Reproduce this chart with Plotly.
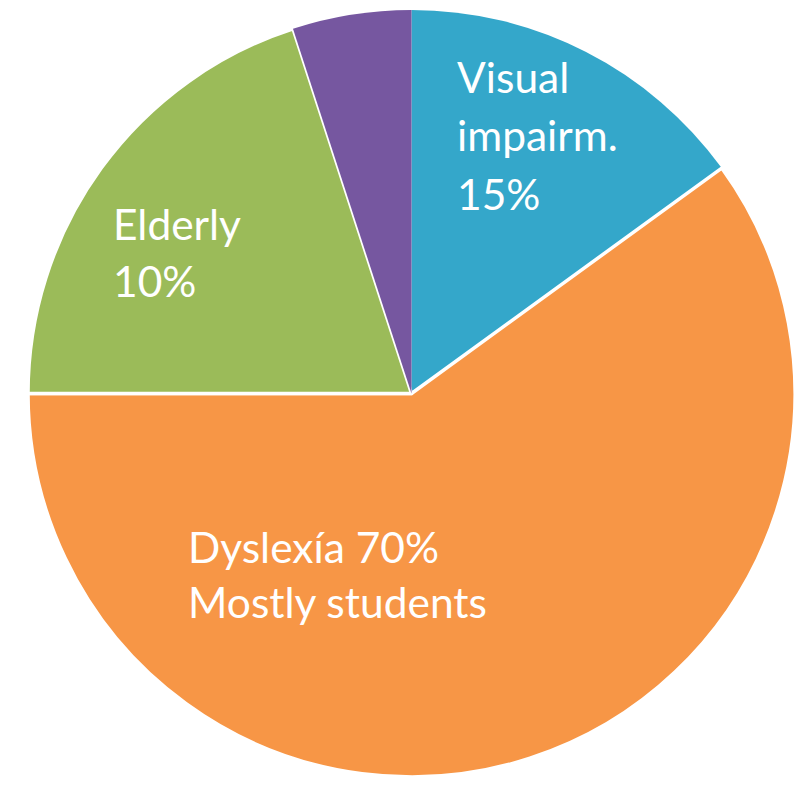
import plotly.graph_objects as go

categories = ["Visual impairm.", "Dyslexía", "Elderly", "Other"]
values = [15, 60, 20, 5]
label_lines = [["Visual", "impairm.", "15%"], ["Dyslexía 70%", "Mostly students"], ["Elderly", "10%"]]
colors = ["#34a7ca", "#f79646", "#9bbb59", "#7657a0"]
line_widths = [0, 3.5, 3.5, 0]

OFF = 8  # page body margin
W, H = 804 - OFF, 786 - OFF


def fx(px):
    return (px - OFF) / W


def fy(py):
    return 1 - (py - OFF) / H


fig = go.Figure(go.Pie(
    labels=categories,
    values=values,
    sort=False,
    direction="clockwise",
    rotation=0,
    textinfo="none",
    hoverinfo="label+percent",
    marker=dict(colors=colors, line=dict(color="white", width=line_widths)),
    domain=dict(x=[fx(28), fx(795)], y=[fy(779), fy(8)]),
    showlegend=False,
))

font = dict(family="Lato, 'Open Sans', sans-serif", size=42.5, color="white")
# (left x, first baseline y, line spacing) in page pixels
label_pos = [(455, 93, 58.5), (186, 563, 54.5), (111, 240, 57)]
for lines, (px, by, sp) in zip(label_lines, label_pos):
    for i, line in enumerate(lines):
        fig.add_annotation(
            text=line, xref="paper", yref="paper",
            x=fx(px), y=fy(by + i * sp), xanchor="left", yanchor="bottom",
            yshift=-11, align="left", showarrow=False, font=font,
        )

fig.update_layout(
    width=W, height=H,
    margin=dict(l=0, r=0, t=0, b=0),
    paper_bgcolor="white", plot_bgcolor="white",
)

fig.write_html("out.html")
